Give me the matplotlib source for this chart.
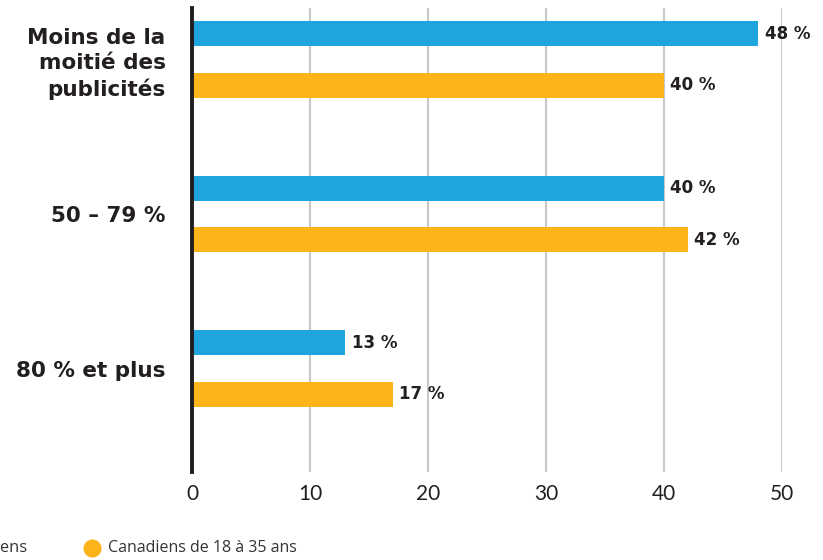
import matplotlib.pyplot as plt
import numpy as np
from matplotlib.lines import Line2D

categories = ['Moins de la\nmoitié des\npublicités', '50 – 79 %', '80 % et plus']
tous = [48, 40, 13]
jeunes = [40, 42, 17]
series_names = ['Tous les Canadiens', 'Canadiens de 18 à 35 ans']

BLUE = '#1fa5de'
ORANGE = '#fbb41a'
DARK = '#231f20'

fig = plt.figure(figsize=(8.23, 5.60), dpi=100)
ax = fig.add_axes([192 / 823, 88 / 560, 590 / 823, 464 / 560])

y = np.arange(len(categories))
off = 0.166
h = 0.162
ax.barh(y - off, tous, height=h, color=BLUE, zorder=3)
ax.barh(y + off, jeunes, height=h, color=ORANGE, zorder=3)

# valeurs au bout des barres
for yi, v in zip(y - off, tous):
    ax.text(v + 0.55, yi, f'{v} %', va='center', ha='left', fontsize=12,
            fontweight='bold', color=DARK, family='DejaVu Sans')
for yi, v in zip(y + off, jeunes):
    ax.text(v + 0.55, yi, f'{v} %', va='center', ha='left', fontsize=12,
            fontweight='bold', color=DARK, family='DejaVu Sans')

ax.set_xlim(0, 50)
ax.set_ylim(2.669, -0.334)
ax.set_xticks(range(0, 51, 10))
ax.tick_params(axis='x', length=0, pad=9, labelsize=15, labelcolor=DARK)
for lab in ax.get_xticklabels():
    lab.set_family('Lato')
ax.set_yticks(y)
ax.set_yticklabels(categories, fontsize=15.5, fontweight='bold', color=DARK,
                   family='DejaVu Sans', linespacing=1.3)
ax.tick_params(axis='y', length=0, pad=19)

ax.grid(axis='x', color='#c8c8c8', linewidth=1.5, zorder=0)
ax.set_axisbelow(True)
for s in ['top', 'right', 'bottom']:
    ax.spines[s].set_visible(False)
ax.spines['left'].set_linewidth(2.8)
ax.spines['left'].set_color(DARK)
ax.spines['left'].set_zorder(4)

# légende en bas
ly = 1 - 548 / 560
fig.add_artist(Line2D([-60 / 823], [ly], marker='o', markersize=12,
                      color=BLUE, linestyle='none', transform=fig.transFigure))
fig.text(27 / 823, ly, series_names[0], ha='right', va='center', fontsize=11.8,
         color='#333333', family='Open Sans')
fig.add_artist(Line2D([92 / 823], [ly], marker='o', markersize=12,
                      color=ORANGE, linestyle='none', transform=fig.transFigure))
fig.text(108 / 823, ly, series_names[1], ha='left', va='center', fontsize=11.5,
         color='#333333', family='Open Sans')

fig.savefig('out.png', dpi=100)
